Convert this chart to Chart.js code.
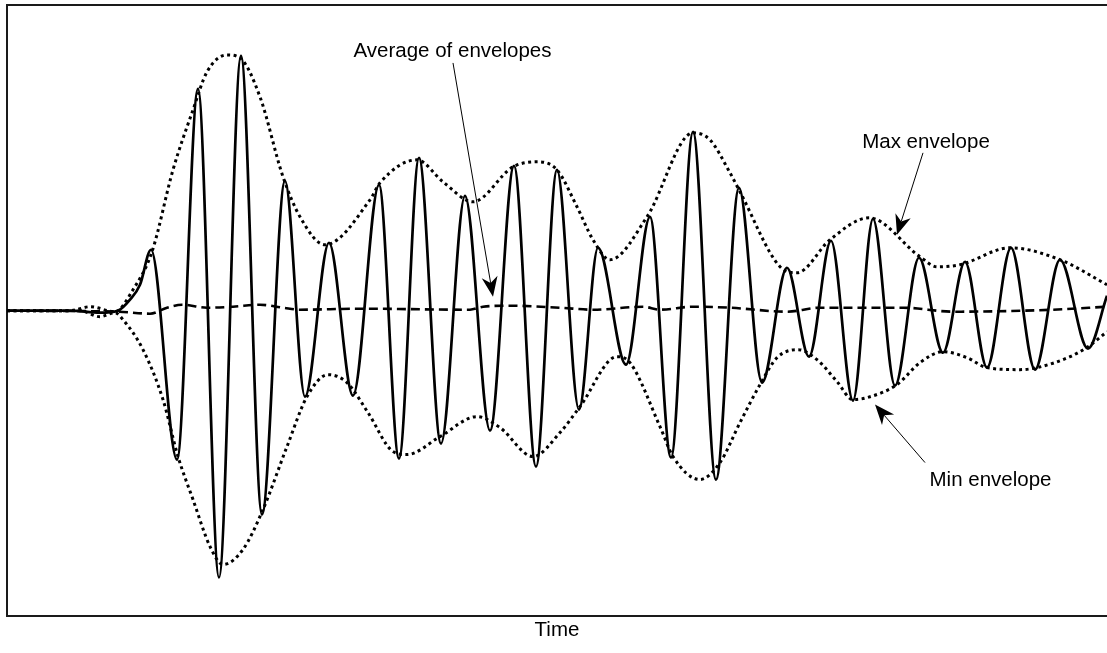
<!DOCTYPE html>
<html>
<head>
<meta charset="utf-8">
<title>Signal envelopes</title>
<script src="https://cdn.jsdelivr.net/npm/chart.js@4.4.1/dist/chart.umd.min.js"></script>
<style>
  html, body { margin: 0; padding: 0; background: #fff; overflow: hidden; }
  canvas { display: block; }
</style>
</head>
<body>
<canvas id="envelopeChart" width="1107" height="653"></canvas>
<script>
// Signal extrema (time, amplitude)
const signalTime = [0.00, 0.63, 0.93, 1.11, 1.23, 1.33, 1.44, 1.70, 1.91, 2.12, 2.34, 2.55, 2.78, 2.98, 3.22, 3.46, 3.72,
                    3.92, 4.12, 4.34, 4.58, 4.83, 5.07, 5.29, 5.50, 5.72, 5.91, 6.19, 6.43, 6.64, 6.86, 7.09, 7.32,
                    7.55, 7.80, 8.02, 8.24, 8.46, 8.66, 8.88, 9.12, 9.36, 9.58, 9.80, 10.04, 10.28, 10.53, 10.81, 11.00];
const signalValue = [0.00, 0.00, -0.02, 0.00, 0.11, 0.26, 0.61, -1.49, 2.22, -2.67, 2.55, -2.04, 1.30, -0.86, 0.68, -0.85, 1.26,
                     -1.48, 1.53, -1.33, 1.15, -1.20, 1.45, -1.56, 1.41, -0.99, 0.63, -0.54, 0.94, -1.47, 1.79, -1.69, 1.23,
                     -0.72, 0.43, -0.46, 0.70, -0.90, 0.92, -0.75, 0.53, -0.42, 0.49, -0.57, 0.63, -0.59, 0.51, -0.38, 0.15];

// Max envelope
const maxTime = [0.00, 0.63, 0.83, 1.08, 1.26, 1.45, 1.66, 1.86, 2.00, 2.20, 2.33, 2.53, 2.76, 2.93, 3.18, 3.63, 3.73, 4.10, 4.36, 4.66,
                 5.06, 5.30, 5.50, 5.70, 5.86, 6.03, 6.40, 6.86, 7.03, 7.23, 7.33, 7.73, 7.90, 8.23, 8.62, 9.13, 9.30, 9.53, 10.03, 10.53, 11.00];
const maxValue = [0.00, 0.00, 0.04, -0.01, 0.21, 0.59, 1.41, 2.01, 2.39, 2.56, 2.53, 2.14, 1.34, 0.94, 0.66, 1.11, 1.28, 1.51, 1.29, 1.09,
                  1.44, 1.49, 1.41, 1.04, 0.71, 0.51, 0.94, 1.78, 1.71, 1.38, 1.19, 0.44, 0.38, 0.71, 0.93, 0.54, 0.44, 0.46, 0.63, 0.51, 0.26];

// Min envelope
const minTime = [0.00, 0.73, 0.93, 1.08, 1.16, 1.36, 1.56, 1.71, 1.86, 2.03, 2.16, 2.36, 2.56, 2.80, 3.00, 3.21, 3.40, 3.61, 3.86, 4.00,
                 4.33, 4.70, 4.93, 5.26, 5.53, 5.73, 6.10, 6.23, 6.53, 6.66, 6.93, 7.13, 7.33, 7.53, 7.70, 7.91, 8.10, 8.30, 8.46, 8.60,
                 8.90, 9.13, 9.36, 9.60, 9.80, 10.13, 10.30, 10.63, 10.81, 11.00];
const minValue = [0.00, 0.00, -0.06, -0.02, -0.09, -0.39, -0.89, -1.46, -1.89, -2.36, -2.54, -2.39, -1.99, -1.36, -0.86, -0.64, -0.72, -1.02, -1.41, -1.44,
                  -1.26, -1.06, -1.17, -1.46, -1.22, -0.96, -0.46, -0.52, -1.16, -1.46, -1.69, -1.52, -1.12, -0.74, -0.47, -0.39, -0.49, -0.71, -0.89, -0.87,
                  -0.74, -0.52, -0.41, -0.47, -0.57, -0.59, -0.57, -0.46, -0.36, -0.21];

// Average of envelopes
const avgTime = [0.00, 1.11, 1.43, 1.60, 1.75, 2.00, 2.26, 2.53, 2.76, 2.93, 3.53, 4.63, 4.76, 5.03, 5.53, 5.86, 6.36, 6.53, 6.86, 7.23,
                 7.80, 8.13, 8.96, 9.46, 10.46, 11.00];
const avgValue = [0.00, -0.01, -0.03, 0.03, 0.06, 0.03, 0.04, 0.06, 0.03, 0.01, 0.02, 0.01, 0.04, 0.05, 0.03, 0.01, 0.04, 0.01, 0.04, 0.03,
                  -0.01, 0.03, 0.03, -0.01, 0.01, 0.04];

const noteLabels = ["Average of envelopes", "Max envelope", "Min envelope"];

// where each note sits, in data units: text anchor and arrow start / tip
const notePlacement = [
    { tx: 4.455, ty: 2.54, from: [4.46, 2.48], to: [4.86, 0.14] },
    { tx: 9.19, ty: 1.63, from: [9.16, 1.58], to: [8.90, 0.76] },
    { tx: 9.835, ty: -1.75, from: [9.18, -1.52], to: [8.68, -0.94] }
];

function toPoints(xs, ys) {
    return xs.map((t, i) => ({ x: t, y: ys[i] }));
}

const fontFamily = "'Liberation Sans', Arial, sans-serif";
const axisBorder = { display: true, color: '#1a1a1a', width: 2 };

// arrows and their labels
const arrowNotes = {
    id: 'arrowNotes',
    afterDatasetsDraw(chart) {
        const { ctx, scales: { x, y } } = chart;
        ctx.save();
        ctx.fillStyle = '#000';
        ctx.strokeStyle = '#000';
        ctx.font = '20.5px ' + fontFamily;
        ctx.textAlign = 'center';
        ctx.textBaseline = 'alphabetic';
        noteLabels.forEach((label, i) => {
            const n = notePlacement[i];
            ctx.fillText(label, x.getPixelForValue(n.tx), y.getPixelForValue(n.ty));

            const x0 = x.getPixelForValue(n.from[0]), y0 = y.getPixelForValue(n.from[1]);
            const x1 = x.getPixelForValue(n.to[0]), y1 = y.getPixelForValue(n.to[1]);
            const len = Math.hypot(x1 - x0, y1 - y0);
            const ux = (x1 - x0) / len, uy = (y1 - y0) / len;
            const headLen = 20, halfW = 8, notch = 14;

            ctx.lineWidth = 1;
            ctx.beginPath();
            ctx.moveTo(x0, y0);
            ctx.lineTo(x1 - ux * notch, y1 - uy * notch);
            ctx.stroke();

            ctx.beginPath();
            ctx.moveTo(x1, y1);
            ctx.lineTo(x1 - ux * headLen - uy * halfW, y1 - uy * headLen + ux * halfW);
            ctx.lineTo(x1 - ux * notch, y1 - uy * notch);
            ctx.lineTo(x1 - ux * headLen + uy * halfW, y1 - uy * headLen - ux * halfW);
            ctx.closePath();
            ctx.fill();
        });
        ctx.restore();
    }
};

const ctx = document.getElementById('envelopeChart').getContext('2d');
new Chart(ctx, {
    type: 'line',
    data: {
        datasets: [
            {
                label: 'Signal',
                data: toPoints(signalTime, signalValue),
                borderColor: '#000',
                borderWidth: 2.7,
                cubicInterpolationMode: 'monotone',
                order: 0
            },
            {
                label: 'Max envelope',
                data: toPoints(maxTime, maxValue),
                borderColor: '#000',
                borderWidth: 3,
                borderDash: [3, 3.5],
                cubicInterpolationMode: 'monotone',
                order: 2
            },
            {
                label: 'Min envelope',
                data: toPoints(minTime, minValue),
                borderColor: '#000',
                borderWidth: 3,
                borderDash: [3, 3.5],
                cubicInterpolationMode: 'monotone',
                order: 2
            },
            {
                label: 'Average of envelopes',
                data: toPoints(avgTime, avgValue),
                borderColor: '#000',
                borderWidth: 2.6,
                borderDash: [9, 5],
                cubicInterpolationMode: 'monotone',
                order: 1
            }
        ]
    },
    options: {
        animation: false,
        responsive: false,
        devicePixelRatio: 1,
        layout: { padding: { left: 7, top: 5, right: 0, bottom: 0 } },
        elements: { point: { radius: 0, hoverRadius: 0 } },
        plugins: {
            legend: { display: false },
            tooltip: { enabled: false }
        },
        scales: {
            x: {
                type: 'linear', position: 'bottom', min: 0, max: 11,
                grid: { display: false, drawTicks: false },
                ticks: { display: false },
                border: axisBorder,
                title: {
                    display: true, text: 'Time', color: '#000',
                    font: { family: fontFamily, size: 20.5 },
                    padding: { top: 2, bottom: 10 }
                }
            },
            xTop: {
                type: 'linear', position: 'top', min: 0, max: 11,
                grid: { display: false, drawTicks: false },
                ticks: { display: false },
                border: axisBorder
            },
            y: {
                type: 'linear', min: -3.06, max: 3.06,
                grid: { display: false, drawTicks: false },
                ticks: { display: false },
                border: axisBorder
            }
        }
    },
    plugins: [arrowNotes]
});
</script>
</body>
</html>
